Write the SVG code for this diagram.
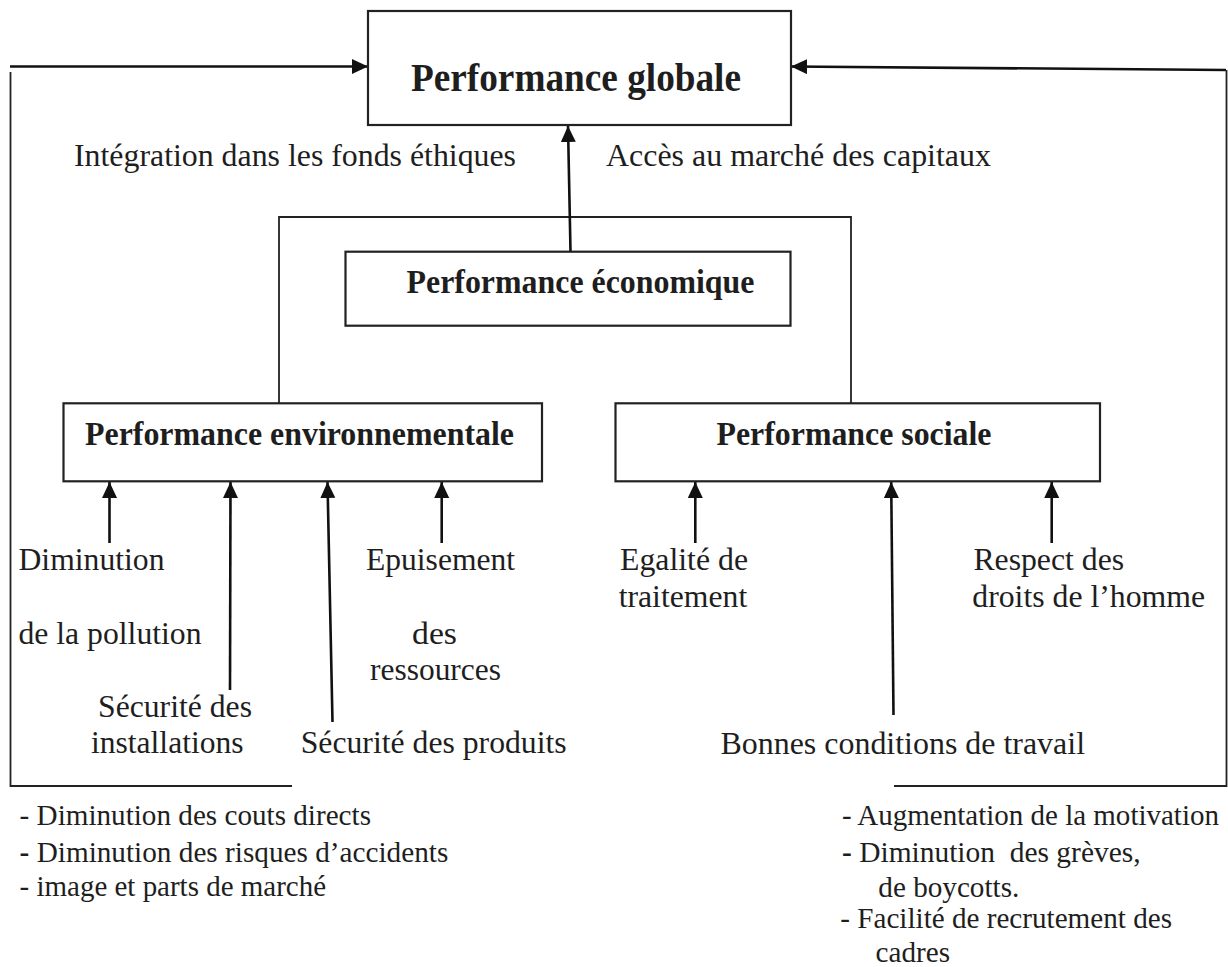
<svg xmlns="http://www.w3.org/2000/svg" width="1228" height="967" viewBox="0 0 1228 967">
  <style>
    .box { fill: #ffffff; stroke: #222222; stroke-width: 2.2; }
    .title { font-family: "Liberation Serif", "Times New Roman", serif; font-weight: bold; fill: #1e1e1e; }
    .lbl { font-family: "Liberation Serif", "Times New Roman", serif; font-size: 32px; fill: #1e1e1e; }
    .lst { font-family: "Liberation Serif", "Times New Roman", serif; font-size: 29px; fill: #1e1e1e; }
    .link { fill: none; stroke: #222222; stroke-width: 1.8; }
    .arrow { fill: none; stroke: #111111; stroke-width: 2.6; marker-end: url(#head); }
    .frame { fill: none; stroke: #222222; stroke-width: 1.8; }
  </style>
  <defs>
    <marker id="head" markerUnits="userSpaceOnUse" markerWidth="17" markerHeight="16" refX="16" refY="7.5" orient="auto">
      <path d="M0,0 L16,7.5 L0,15 Z" fill="#111111"/>
    </marker>
  </defs>

  <rect width="1228" height="967" fill="#ffffff"/>

  <!-- connectors -->
  <g id="connectors">
    <!-- left feedback loop: environment results back to global performance -->
    <line class="arrow" x1="10" y1="66.5" x2="368" y2="66.5"/>
    <polyline class="frame" points="10.5,72 10.5,786 292,786"/>
    <!-- right feedback loop: social results back to global performance -->
    <line class="arrow" x1="1226" y1="70" x2="791" y2="66.5"/>
    <polyline class="frame" points="894,786 1226.5,786 1226.5,70"/>
    <!-- bracket joining environment and social boxes -->
    <polyline class="link" points="279,403 279,217 851,217 851,403"/>
    <!-- economic to global -->
    <line class="arrow" x1="570.5" y1="251.5" x2="568" y2="126"/>
    <!-- inputs of environmental performance -->
    <line class="arrow" x1="109.5" y1="543" x2="109.5" y2="482"/>
    <line class="arrow" x1="230" y1="690" x2="230.5" y2="482"/>
    <line class="arrow" x1="332.5" y1="722" x2="327.5" y2="482"/>
    <line class="arrow" x1="441.7" y1="543" x2="441.7" y2="482"/>
    <!-- inputs of social performance -->
    <line class="arrow" x1="695.3" y1="543" x2="695.3" y2="482"/>
    <line class="arrow" x1="893.5" y1="715" x2="891.2" y2="482"/>
    <line class="arrow" x1="1051.7" y1="543" x2="1051.7" y2="482"/>
  </g>

  <g id="global">
    <rect class="box" x="368" y="11" width="423" height="114"/>
    <text class="title" font-size="40" x="411" y="91" textLength="330" lengthAdjust="spacingAndGlyphs">Performance globale</text>
  </g>

  <g id="economique">
    <rect class="box" x="345.5" y="251.7" width="445" height="74"/>
    <text class="title" font-size="33" x="406.5" y="293.3" textLength="348" lengthAdjust="spacingAndGlyphs">Performance économique</text>
  </g>

  <g id="environnementale">
    <rect class="box" x="63.5" y="403.3" width="478.5" height="78"/>
    <text class="title" font-size="33" x="85" y="444.5" textLength="429" lengthAdjust="spacingAndGlyphs">Performance environnementale</text>
  </g>

  <g id="sociale">
    <rect class="box" x="615.5" y="403.3" width="484.5" height="78"/>
    <text class="title" font-size="33" x="716.5" y="444.5" textLength="275" lengthAdjust="spacingAndGlyphs">Performance sociale</text>
  </g>

  <g id="label-fonds-ethiques">
    <text class="lbl" x="74" y="166" textLength="442" lengthAdjust="spacingAndGlyphs">Intégration dans les fonds éthiques</text>
  </g>
  <g id="label-capitaux">
    <text class="lbl" x="606" y="166" textLength="385" lengthAdjust="spacingAndGlyphs">Accès au marché des capitaux</text>
  </g>

  <g id="label-pollution">
    <text class="lbl" x="18.5" y="570" textLength="146" lengthAdjust="spacingAndGlyphs">Diminution</text>
    <text class="lbl" x="18.5" y="643.5" textLength="183" lengthAdjust="spacingAndGlyphs">de la pollution</text>
  </g>
  <g id="label-installations">
    <text class="lbl" x="98" y="716.7" textLength="154" lengthAdjust="spacingAndGlyphs">Sécurité des</text>
    <text class="lbl" x="91" y="753.3" textLength="152.5" lengthAdjust="spacingAndGlyphs">installations</text>
  </g>
  <g id="label-produits">
    <text class="lbl" x="300.7" y="753.3" textLength="266" lengthAdjust="spacingAndGlyphs">Sécurité des produits</text>
  </g>
  <g id="label-ressources">
    <text class="lbl" x="366" y="570" textLength="149" lengthAdjust="spacingAndGlyphs">Epuisement</text>
    <text class="lbl" x="412" y="643.5" textLength="45" lengthAdjust="spacingAndGlyphs">des</text>
    <text class="lbl" x="370" y="680" textLength="131" lengthAdjust="spacingAndGlyphs">ressources</text>
  </g>

  <g id="label-egalite">
    <text class="lbl" x="620" y="570" textLength="128" lengthAdjust="spacingAndGlyphs">Egalité de</text>
    <text class="lbl" x="618.7" y="606.7" textLength="128.5" lengthAdjust="spacingAndGlyphs">traitement</text>
  </g>
  <g id="label-conditions">
    <text class="lbl" x="720.5" y="754.3" textLength="364.5" lengthAdjust="spacingAndGlyphs">Bonnes conditions de travail</text>
  </g>
  <g id="label-droits">
    <text class="lbl" x="973.4" y="570" textLength="150.7" lengthAdjust="spacingAndGlyphs">Respect des</text>
    <text class="lbl" x="972.3" y="606.7" textLength="232.7" lengthAdjust="spacingAndGlyphs">droits de l’homme</text>
  </g>

  <g id="effets-environnement">
    <text class="lst" x="19.6" y="825" textLength="351.4" lengthAdjust="spacingAndGlyphs">- Diminution des couts directs</text>
    <text class="lst" x="19.6" y="861.7" textLength="428.7" lengthAdjust="spacingAndGlyphs"><tspan font-weight="bold">-</tspan> Diminution des risques d’accidents</text>
    <text class="lst" x="19.6" y="896" textLength="306.4" lengthAdjust="spacingAndGlyphs">- image et parts de marché</text>
  </g>

  <g id="effets-social">
    <text class="lst" x="842" y="825" textLength="377" lengthAdjust="spacingAndGlyphs">- Augmentation de la motivation</text>
    <text class="lst" x="842" y="861.7" textLength="298.6" lengthAdjust="spacingAndGlyphs" xml:space="preserve"><tspan font-weight="bold">-</tspan> Diminution  des grèves,</text>
    <text class="lst" x="878.3" y="896.7" textLength="141" lengthAdjust="spacingAndGlyphs">de boycotts.</text>
    <text class="lst" x="840.3" y="928.3" textLength="331.7" lengthAdjust="spacingAndGlyphs">- Facilité de recrutement des</text>
    <text class="lst" x="875.5" y="961.7" textLength="74.5" lengthAdjust="spacingAndGlyphs">cadres</text>
  </g>
</svg>
